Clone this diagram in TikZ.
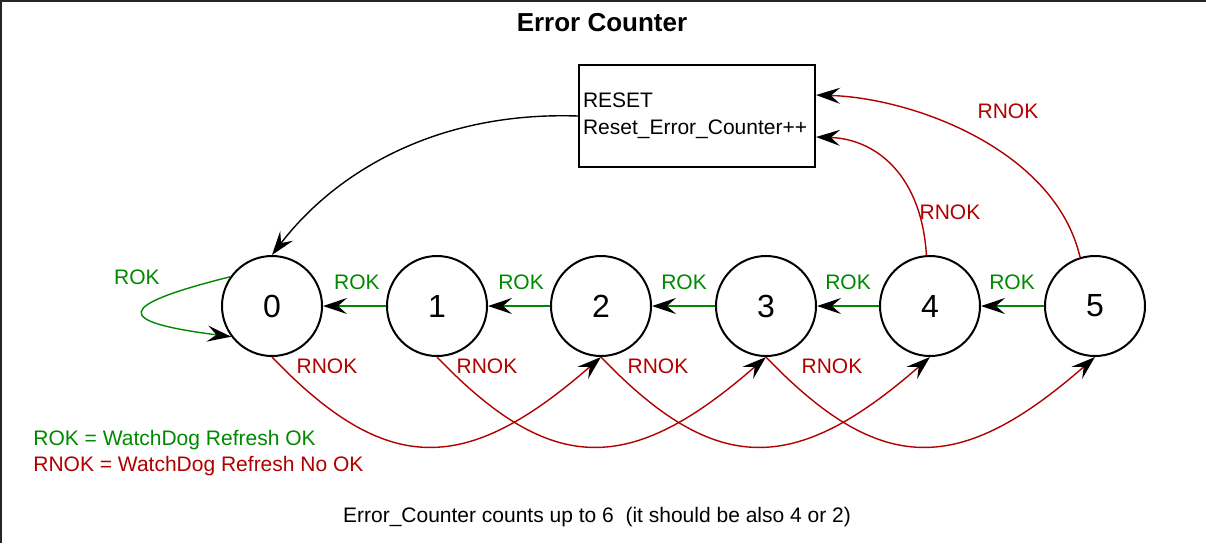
\documentclass[tikz,border=0pt]{standalone}
\usepackage{fontspec}
\setmainfont{Liberation Sans}
\usetikzlibrary{arrows.meta}
\definecolor{rokgreen}{RGB}{0,136,0}
\definecolor{rnokred}{RGB}{176,0,0}

\begin{document}
\begin{tikzpicture}[x=0.5pt,y=-0.5pt,
  font=\fontsize{10.5}{13.5}\selectfont,
  cntstate/.style={draw,circle,line width=1pt,minimum size=50pt,inner sep=0pt,font=\fontsize{16}{19}\selectfont},
  blackhead/.style={-{Stealth[length=12pt,width=8pt,inset=4.5pt,color=black]}},
  rok/.style={blackhead,draw=rokgreen,line width=0.7pt},
  rnok/.style={blackhead,draw=rnokred,line width=0.7pt},
  roklbl/.style={text=rokgreen,inner sep=0pt},
  rnoklbl/.style={text=rnokred,inner sep=0pt}]
\useasboundingbox (0,0) rectangle (1206,543);
\draw[line width=1pt,black!85] (1,543) -- (1,1) -- (1206,1);
\node[font=\fontsize{13}{15}\selectfont\bfseries] (title) at (602,23) {Error Counter};
\node[draw,line width=1pt,minimum width=118pt,minimum height=51pt,text width=114pt,inner sep=2pt,align=left] (reset) at (697,116) {RESET\\Reset\_Error\_Counter++};
\foreach \i/\x in {0/272,1/437,2/601,3/766,4/930,5/1095}
  \node[cntstate] (n\i) at (\x,306) {\i};
\foreach \i/\j/\x in {0/1/357,1/2/521,2/3/684,3/4/848,4/5/1012}{
  \draw[rok] (n\j) -- (n\i);
  \node[roklbl] (rok\i) at (\x,282) {ROK};
}
\foreach \i/\j/\x in {0/2/327,1/3/487,2/4/658,3/5/832}{
  \draw[rnok] (n\i.south) .. controls +(115,120) and +(-135,118) .. (n\j.south);
  \node[rnoklbl] (rnok\i) at (\x,366) {RNOK};
}
\draw[rok] (n0.145) .. controls +(-116,29) and +(-118,-15) .. (n0.217);
\node[roklbl] (rokself) at (137,277) {ROK};
\draw[blackhead,line width=0.7pt] (reset.west) .. controls +(-150,-5) and +(58,-76) .. (n0.north);
\draw[rnok] (n4.94) .. controls +(-5,-80) and +(60,2) .. (reset.-10);
\node[rnoklbl] (rnok4) at (950,212) {RNOK};
\draw[rnok] (n5.107) .. controls +(-25,-107) and +(98,3) .. (reset.10);
\node[rnoklbl] (rnok5) at (1008,111) {RNOK};
\node[roklbl,anchor=west] (legrok) at (33,440) {ROK = WatchDog Refresh OK};
\node[rnoklbl,anchor=west] (legrnok) at (33,466) {RNOK = WatchDog Refresh No OK};
\node (note) at (597,517) {Error\_Counter counts up to 6\ \ (it should be also 4 or 2)};
\end{tikzpicture}
\end{document}
